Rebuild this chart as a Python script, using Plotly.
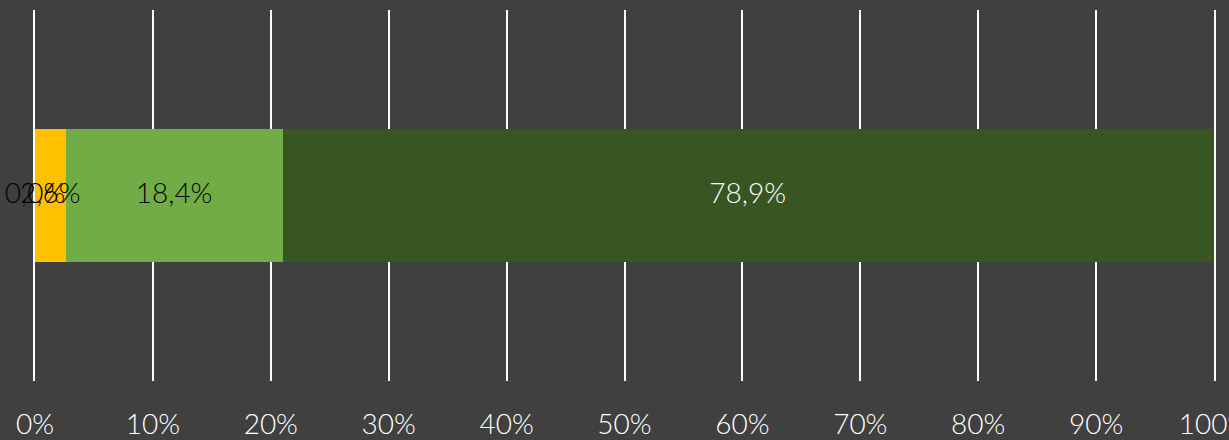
import plotly.graph_objects as go
import numpy as np

category = ["Serie"]
series_names = ["A", "B", "C", "D"]
values = [0.0, 2.6, 18.4, 78.9]
labels = ["0,0%", "2,6%", "18,4%", "78,9%"]
colors = ["#4472C4", "#FFC000", "#70AD47", "#375623"]
label_colors = ["#000000", "#000000", "#000000", "#FFFFFF"]
tick_vals = [0, 10, 20, 30, 40, 50, 60, 70, 80, 90, 100]
tick_text = ["0%", "10%", "20%", "30%", "40%", "50%", "60%", "70%", "80%", "90%", "100%"]

FONT = "Lato Light, Lato, Open Sans"

fig = go.Figure()
for name, v, c in zip(series_names, values, colors):
    fig.add_trace(go.Bar(x=[v], y=category, orientation="h", name=name,
                         marker=dict(color=c, line=dict(width=0)),
                         width=0.356, hoverinfo="skip"))

starts = np.cumsum([0] + values[:-1])
mids = starts + np.array(values) / 2
fig.add_trace(go.Scatter(x=mids, y=category * len(values), mode="text",
                         text=labels, cliponaxis=False,
                         textfont=dict(family=FONT, size=28, color=label_colors, weight=300),
                         hoverinfo="skip", showlegend=False))

fig.update_layout(
    barmode="stack",
    width=1229, height=440,
    paper_bgcolor="#404040", plot_bgcolor="#404040",
    margin=dict(l=35, r=15, t=10, b=59),
    showlegend=False,
    font=dict(family=FONT, color="#FFFFFF", size=28, weight=300),
)
fig.update_xaxes(range=[0, 100], tickvals=tick_vals, ticktext=tick_text,
                 showgrid=True, gridcolor="#FFFFFF", gridwidth=1.5,
                 zeroline=False, showline=False, ticks="",
                 ticklabelstandoff=24, automargin=False,
                 ticklabeloverflow="allow",
                 tickfont=dict(family=FONT, size=28, color="#FFFFFF", weight=300))
fig.update_yaxes(range=[-0.5, 0.5], showticklabels=False, showgrid=False,
                 zeroline=False, showline=True, mirror=True,
                 linecolor="#FFFFFF", linewidth=1.5, layer="below traces",
                 automargin=False)

fig.write_html("out.html")
